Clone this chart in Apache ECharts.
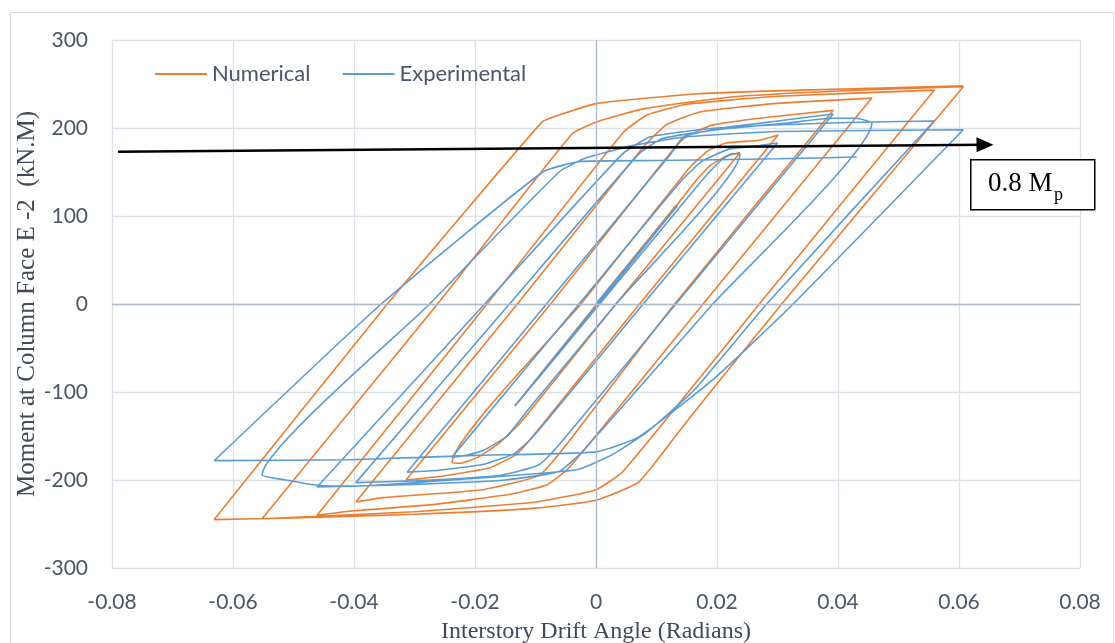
<!DOCTYPE html>
<html>
<head>
<meta charset="utf-8">
<script src="https://cdn.jsdelivr.net/npm/echarts@6/dist/echarts.min.js"></script>
<style>
html,body{margin:0;padding:0;background:#fff;overflow:hidden;}
#chart{width:1115px;height:643px;}
</style>
</head>
<body>
<div id="chart"></div>
<script>
// ---- data (drift angle in radians, moment in kN.M) ----
const seriesNames = ["Numerical", "Experimental"];

const numerical = [
  [0,0],[0.0132,112],[-0.0134,-116],
  [0.0005,0],[0.0165,140],[0.019,158],[0.0215,168],[0.0238,172],
  [0.0033,0],[-0.0125,-135],[-0.016,-158],[-0.0195,-174],[-0.0225,-181],[-0.0238,-180],
  [-0.0025,0],[0.0155,155],[0.0185,174],[0.0215,183],[0.027,186],[0.0301,192],
  [0.0072,0],[-0.0098,-145],[-0.013,-170],[-0.0175,-186],[-0.024,-194],[-0.0296,-199],[-0.0314,-200],
  [-0.0075,0],[0.0115,165],[0.0145,188],[0.019,203],[0.028,212],[0.0392,220],
  [0.013,0],[-0.0055,-165],[-0.0095,-195],[-0.0187,-211],[-0.0352,-220],[-0.0397,-225],
  [-0.013,0],[0.0078,178],[0.0115,203],[0.017,218],[0.03,228],[0.0456,234],
  [0.0177,0],[-0.0043,-185],[-0.008,-205],[-0.014,-216],[-0.027,-228],[-0.04,-235],[-0.0461,-240],
  [-0.018,0],[0.0045,195],[0.0085,215],[0.015,227],[0.03,236],[0.0559,243],
  [0.027,0],[0.0045,-190],[0.0,-211],[-0.01,-225],[-0.03,-236],[-0.0552,-244],
  [-0.0262,0],[-0.004,193],[0.0002,207],[0.008,222],[0.022,235],[0.04,242],[0.0607,247],
  [0.0307,0],[0.0182,-106],[0.0135,-147],[0.0071,-202],[0.0,-223],[-0.01,-232],[-0.03,-239],[-0.05,-243],[-0.0631,-245],
  [-0.0345,0],[-0.0089,207],[-0.006,215],[0.0002,228],[0.017,239],[0.034,243],[0.0607,248]
];

const experimental = [
  [0,0],[0.0135,112],[-0.0134,-116],
  [0.0006,0],[0.0165,132],[0.019,152],[0.021,165],[0.0226,171],[0.0238,170],
  [0.0033,0],[-0.0112,-120],[-0.0147,-150],[-0.0185,-166],[-0.0215,-172],[-0.0238,-174],
  [-0.0028,0],[0.0141,140],[0.0175,162],[0.022,176],[0.027,180],[0.030,183],
  [0.0078,0],[-0.0103,-150],[-0.0135,-170],[-0.0185,-182],[-0.026,-189],[-0.0312,-191],
  [-0.0082,0],[0.0123,170],[0.0145,190],[0.021,200],[0.03,208],[0.0392,216],
  [0.0132,0],[-0.0061,-160],[-0.0095,-183],[-0.016,-195],[-0.03,-201],[-0.0397,-203],
  [-0.0143,0],[0.007,170],[0.011,188],[0.02,198],[0.032,206],[0.039,211],[0.043,211],[0.0456,205],
  [0.0193,0],[-0.0019,-165],[-0.006,-190],[-0.015,-200],[-0.03,-205],[-0.0461,-208],
  [-0.0184,0],[0.0043,170],[0.009,190],[0.02,200],[0.04,206],[0.0559,208],
  [0.0282,0],[0.0162,-98],[0.0085,-145],[0.003,-170],[-0.003,-188],[-0.02,-198],[-0.04,-207],[-0.046,-206],[-0.0512,-200],[-0.0552,-194],
  [-0.0275,0],[-0.0061,150],[-0.002,165],[0.006,180],[0.015,190],[0.03,196],[0.0607,198],
  [0.0326,0],[0.0198,-83],[0.0071,-151],[0.0,-168],[-0.02,-172],[-0.0407,-177],[-0.0631,-178],
  [-0.0355,0],[-0.0088,150],[-0.0026,162],[0.01,163],[0.03,165],[0.0431,167]
];

// 0.8 Mp reference arrow (drift, moment)
const arrowStart = [-0.079, 173];
const arrowEnd = [0.0643, 181];
const annotationText = "0.8 M";
const annotationSub = "p";

const xTitle = "Interstory Drift Angle (Radians)";
const yTitle = "Moment at Column Face E -2  (kN.M)";

// ---- chart ----
const chart = echarts.init(document.getElementById('chart'), null, {renderer: 'canvas', width: 1115, height: 643});
const tickColor = '#4A5669';
const gridColor = '#DCE1E8';
const zeroColor = '#AEBBCD';

chart.setOption({
  animation: false,
  backgroundColor: '#fff',
  grid: {left: 112, right: 35, top: 40, bottom: 75, containLabel: false, outerBoundsMode: 'none'},
  legend: {
    data: seriesNames,
    left: 150, top: 58,
    itemWidth: 52, itemHeight: 14, itemGap: 32,
    icon: 'path://M0,6 L52,6 L52,8 L0,8 Z',
    textStyle: {fontFamily: 'Lato', fontSize: 22, color: tickColor}
  },
  xAxis: {
    type: 'value', min: -0.08, max: 0.08, interval: 0.02,
    axisLine: {show: false}, axisTick: {show: false},
    axisLabel: {
      fontFamily: 'Lato', fontSize: 21, color: tickColor, margin: 24,
      formatter: v => (Math.abs(v) < 1e-9 ? '0' : v.toFixed(2))
    },
    splitLine: {show: true, lineStyle: {color: gridColor, width: 1.3}},
    name: xTitle, nameLocation: 'middle', nameGap: 52, nameMoveOverlap: false,
    nameTextStyle: {fontFamily: 'Liberation Serif', fontSize: 24, color: '#404A58'}
  },
  yAxis: {
    type: 'value', min: -300, max: 300, interval: 100,
    axisLine: {show: false}, axisTick: {show: false},
    axisLabel: {fontFamily: 'Lato', fontSize: 21, color: tickColor, margin: 24},
    splitLine: {show: true, lineStyle: {color: gridColor, width: 1.3}},
    name: yTitle, nameLocation: 'middle', nameGap: 72, nameMoveOverlap: false,
    nameTextStyle: {fontFamily: 'Liberation Serif', fontSize: 25, color: '#404A58'}
  },
  series: [
    {
      name: seriesNames[0], type: 'line', data: numerical,
      showSymbol: false, symbol: 'none', smooth: 0.15,
      lineStyle: {color: '#ED7D31', width: 1.6}, itemStyle: {color: '#ED7D31'},
      z: 3,
      markLine: {
        silent: true, symbol: 'none', animation: false,
        label: {show: false},
        lineStyle: {color: zeroColor, width: 1.3, type: 'solid'},
        data: [{xAxis: 0}, {yAxis: 0}]
      }
    },
    {
      name: seriesNames[1], type: 'line', data: experimental,
      showSymbol: false, symbol: 'none', smooth: 0.15,
      lineStyle: {color: '#5B9BD5', width: 1.6}, itemStyle: {color: '#5B9BD5'},
      z: 4,
      markLine: {
        silent: true, animation: false,
        symbol: ['none', 'triangle'], symbolSize: [15, 17],
        label: {show: false},
        lineStyle: {color: '#000', width: 2.6, type: 'solid'},
        data: [[{coord: arrowStart}, {coord: arrowEnd}]],
        z: 10
      }
    }
  ],
  graphic: [
    {type: 'rect', left: 8, top: 10, shape: {width: 1103, height: 645}, style: {fill: 'none', stroke: '#D9D9D9', lineWidth: 1}, silent: true, z: -1},
    {type: 'rect', left: 970, top: 159, shape: {width: 124, height: 50}, style: {fill: '#fff', stroke: '#000', lineWidth: 1.5}, z: 100},
    {type: 'text', left: 988, top: 170, style: {text: annotationText, font: '27px "Liberation Serif"', fill: '#000'}, z: 101},
    {type: 'text', left: 1054, top: 186, style: {text: annotationSub, font: '18px "Liberation Serif"', fill: '#000'}, z: 101}
  ]
});
</script>
</body>
</html>
